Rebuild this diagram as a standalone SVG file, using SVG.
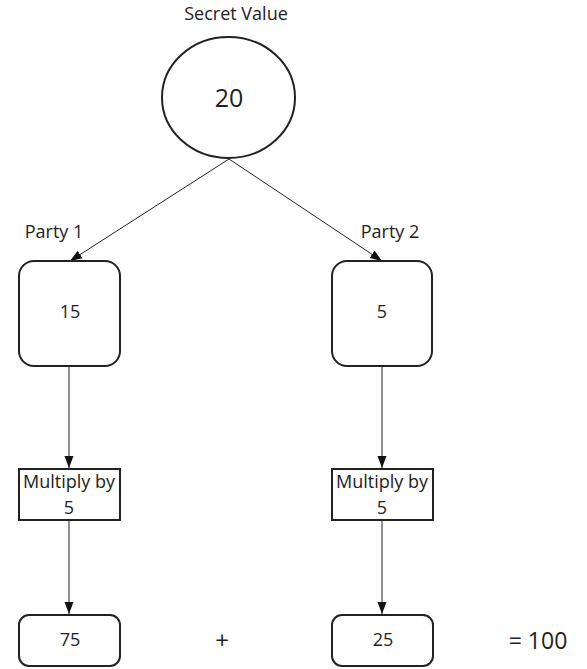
<svg xmlns="http://www.w3.org/2000/svg" width="587" height="669" viewBox="0 0 587 669">
<style>
text{font-family:"Open Sans","Noto Sans",sans-serif;fill:#222;text-anchor:middle;font-size:18px}
.n{fill:#fff;stroke:#222;stroke-width:2}
.c{stroke:#222;stroke-width:1;fill:none}
</style>
<defs>
<marker id="a" viewBox="0 0 12 10" refX="12" refY="5" markerWidth="12" markerHeight="10" markerUnits="userSpaceOnUse" orient="auto">
<path d="M0,0.5 L12,5 L0,9.5 Z" fill="#111"/>
</marker>
</defs>
<rect width="587" height="669" fill="#fff"/>
<g id="connectors">
<line class="c" x1="229" y1="159" x2="70" y2="261" marker-end="url(#a)"/>
<line class="c" x1="229" y1="159" x2="382" y2="261" marker-end="url(#a)"/>
<line class="c" x1="69" y1="366" x2="69" y2="468" marker-end="url(#a)"/>
<line class="c" x1="382" y1="366" x2="382" y2="468" marker-end="url(#a)"/>
<line class="c" x1="69" y1="521" x2="69" y2="614" marker-end="url(#a)"/>
<line class="c" x1="382" y1="521" x2="382" y2="614" marker-end="url(#a)"/>
</g>
<g id="secret">
<text x="236" y="20">Secret Value</text>
<ellipse class="n" cx="228.5" cy="97.5" rx="66.5" ry="60.5"/>
<text x="229" y="107" style="font-size:25px">20</text>
</g>
<g id="party1">
<text x="54" y="238">Party 1</text>
<rect class="n" x="19" y="261" width="101" height="105" rx="15"/>
<text x="70" y="318">15</text>
</g>
<g id="party2">
<text x="390" y="238">Party 2</text>
<rect class="n" x="332" y="261" width="100" height="105" rx="15"/>
<text x="382" y="318">5</text>
</g>
<g id="mult1">
<rect class="n" x="19" y="469" width="101" height="51"/>
<text x="69" y="488">Multiply by</text>
<text x="69" y="514">5</text>
</g>
<g id="mult2">
<rect class="n" x="332" y="469" width="101" height="51"/>
<text x="382" y="488">Multiply by</text>
<text x="382" y="514">5</text>
</g>
<g id="res1">
<rect class="n" x="19" y="615" width="101" height="51" rx="10"/>
<text x="70" y="646">75</text>
</g>
<g id="res2">
<rect class="n" x="332" y="615" width="101" height="51" rx="10"/>
<text x="383" y="646">25</text>
</g>
<g id="plus">
<text x="222" y="649" style="font-size:24px">+</text>
</g>
<g id="total">
<text x="538" y="649" style="font-size:23px">= 100</text>
</g>
</svg>
